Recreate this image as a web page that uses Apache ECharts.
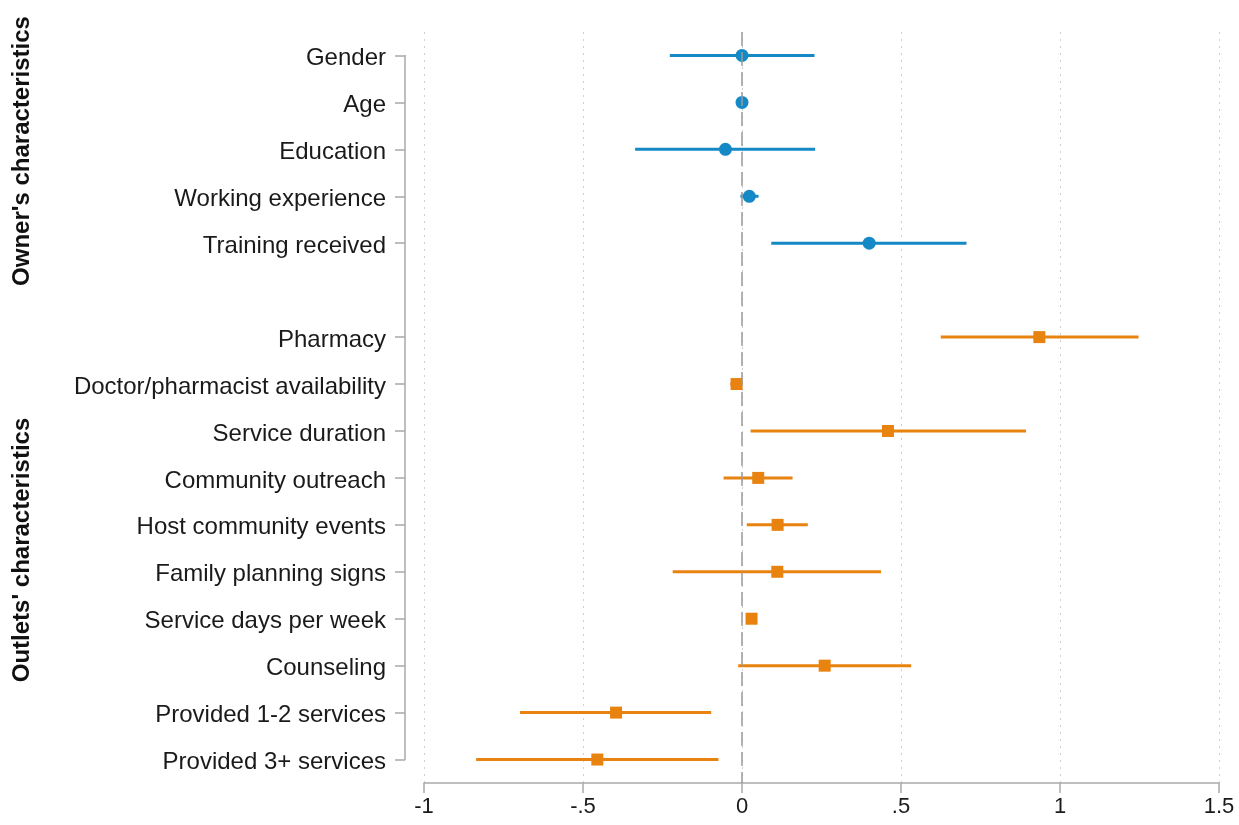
<!DOCTYPE html>
<html>
<head>
<meta charset="utf-8">
<title>Coefficient plot</title>
<script src="https://cdn.jsdelivr.net/npm/echarts@6/dist/echarts.min.js"></script>
<style>
  html, body { margin: 0; padding: 0; background: #ffffff; }
  #chart { width: 1239px; height: 825px; }
</style>
</head>
<body>
<div id="chart"></div>
<script>
// Row labels, top to bottom (empty string = spacer row between groups)
const rowLabels = [
  'Gender', 'Age', 'Education', 'Working experience', 'Training received',
  '',
  'Pharmacy', 'Doctor/pharmacist availability', 'Service duration',
  'Community outreach', 'Host community events', 'Family planning signs',
  'Service days per week', 'Counseling', 'Provided 1-2 services',
  'Provided 3+ services'
];

// Owner's characteristics: point estimates and confidence bounds
const ownerRows  = ['Gender', 'Age', 'Education', 'Working experience', 'Training received'];
const ownerCoef  = [0.000, 0.000, -0.052, 0.023, 0.400];
const ownerLow   = [-0.227, -0.003, -0.336, -0.005, 0.092];
const ownerHigh  = [0.228, 0.003, 0.230, 0.052, 0.706];

// Outlets' characteristics: point estimates and confidence bounds
const outletRows = [
  'Pharmacy', 'Doctor/pharmacist availability', 'Service duration',
  'Community outreach', 'Host community events', 'Family planning signs',
  'Service days per week', 'Counseling', 'Provided 1-2 services',
  'Provided 3+ services'
];
const outletCoef = [0.935, -0.017, 0.459, 0.051, 0.112, 0.111, 0.030, 0.260, -0.396, -0.455];
const outletLow  = [0.625, -0.037, 0.027, -0.058, 0.015, -0.218, 0.014, -0.012, -0.698, -0.836];
const outletHigh = [1.247, 0.001, 0.893, 0.159, 0.207, 0.437, 0.046, 0.532, -0.097, -0.074];

// X axis ticks
const xTicks = [-1, -0.5, 0, 0.5, 1, 1.5];

const blue = '#1589c6';
const orange = '#e8830f';
const axisGray = '#a9a9a9';
const fontFamily = '"Liberation Sans", Arial, Helvetica, sans-serif';

function rowIndex(name) { return rowLabels.indexOf(name); }

const ownerCI = ownerRows.map((n, i) => [rowIndex(n), ownerLow[i], ownerHigh[i]]);
const ownerPts = ownerRows.map((n, i) => [ownerCoef[i], rowIndex(n)]);
const outletCI = outletRows.map((n, i) => [rowIndex(n), outletLow[i], outletHigh[i]]);
const outletPts = outletRows.map((n, i) => [outletCoef[i], rowIndex(n)]);

// Horizontal confidence-interval segment
function ciRenderer(color) {
  return function (params, api) {
    const y = api.value(0);
    const p1 = api.coord([api.value(1), y]);
    const p2 = api.coord([api.value(2), y]);
    return {
      type: 'line',
      shape: { x1: p1[0], y1: p1[1], x2: p2[0], y2: p2[1] },
      style: { stroke: color, lineWidth: 3 }
    };
  };
}

const chart = echarts.init(document.getElementById('chart'), null, { renderer: 'canvas' });

chart.setOption({
  animation: false,
  backgroundColor: '#ffffff',
  grid: [
    // plotting area
    { left: 424, right: 20, top: 32, bottom: 42 },
    // label axis for the rows
    { left: 405, width: 1, top: 55.5, height: 704 }
  ],
  xAxis: [
    {
      gridIndex: 0,
      type: 'value',
      min: xTicks[0],
      max: xTicks[xTicks.length - 1],
      interval: 0.5,
      axisLine: { show: true, onZero: false, lineStyle: { color: axisGray, width: 1.5 } },
      axisTick: { show: true, length: 10, lineStyle: { color: axisGray, width: 1.5 } },
      axisLabel: {
        fontSize: 22,
        color: '#1a1a1a',
        fontFamily: fontFamily,
        margin: 13,
        formatter: function (v) {
          return String(v).replace(/^(-?)0\./, '$1.');
        }
      },
      splitLine: { show: true, lineStyle: { color: '#cfcfcf', type: [2, 5], width: 1 } }
    },
    {
      gridIndex: 1,
      type: 'value',
      show: false
    }
  ],
  yAxis: [
    {
      gridIndex: 0,
      type: 'value',
      min: -0.5,
      max: rowLabels.length - 0.5,
      inverse: true,
      show: false
    },
    {
      gridIndex: 1,
      type: 'category',
      data: rowLabels,
      inverse: true,
      boundaryGap: false,
      axisLine: { show: true, lineStyle: { color: axisGray, width: 1.5 } },
      axisTick: {
        show: true,
        length: 10,
        interval: function (idx, val) { return val !== ''; },
        lineStyle: { color: axisGray, width: 1.5 }
      },
      axisLabel: {
        color: '#1a1a1a',
        margin: 19,
        interval: 0,
        formatter: function (v) { return v ? '{t|' + v + '}' : ''; },
        rich: {
          t: {
            fontSize: 24,
            color: '#1a1a1a',
            fontFamily: fontFamily,
            padding: [6, 0, 0, 0]
          }
        }
      },
      splitLine: { show: false }
    }
  ],
  graphic: [
    {
      type: 'text',
      x: 22, y: 151,
      rotation: Math.PI / 2,
      style: {
        text: "Owner's characteristics",
        font: 'bold 24px ' + fontFamily,
        fill: '#111111',
        textAlign: 'center',
        textVerticalAlign: 'middle'
      }
    },
    {
      type: 'text',
      x: 22, y: 550,
      rotation: Math.PI / 2,
      style: {
        text: "Outlets' characteristics",
        font: 'bold 24px ' + fontFamily,
        fill: '#111111',
        textAlign: 'center',
        textVerticalAlign: 'middle'
      }
    }
  ],
  series: [
    {
      type: 'custom',
      name: 'Owner CI',
      xAxisIndex: 0, yAxisIndex: 0,
      renderItem: ciRenderer(blue),
      encode: { x: [1, 2], y: 0 },
      data: ownerCI,
      silent: true,
      z: 3,
      markLine: {
        silent: true,
        symbol: 'none',
        label: { show: false },
        lineStyle: { color: '#9a9a9a', type: [14, 6], width: 1.5 },
        data: [{ xAxis: 0 }]
      }
    },
    {
      type: 'custom',
      name: 'Outlet CI',
      xAxisIndex: 0, yAxisIndex: 0,
      renderItem: ciRenderer(orange),
      encode: { x: [1, 2], y: 0 },
      data: outletCI,
      silent: true,
      z: 3
    },
    {
      type: 'scatter',
      name: 'Owner',
      xAxisIndex: 0, yAxisIndex: 0,
      symbol: 'circle',
      symbolSize: 13,
      itemStyle: { color: blue, opacity: 1 },
      data: ownerPts,
      z: 4
    },
    {
      type: 'scatter',
      name: 'Outlet',
      xAxisIndex: 0, yAxisIndex: 0,
      symbol: 'rect',
      symbolSize: 12,
      itemStyle: { color: orange, opacity: 1 },
      data: outletPts,
      z: 4
    }
  ]
});
</script>
</body>
</html>
